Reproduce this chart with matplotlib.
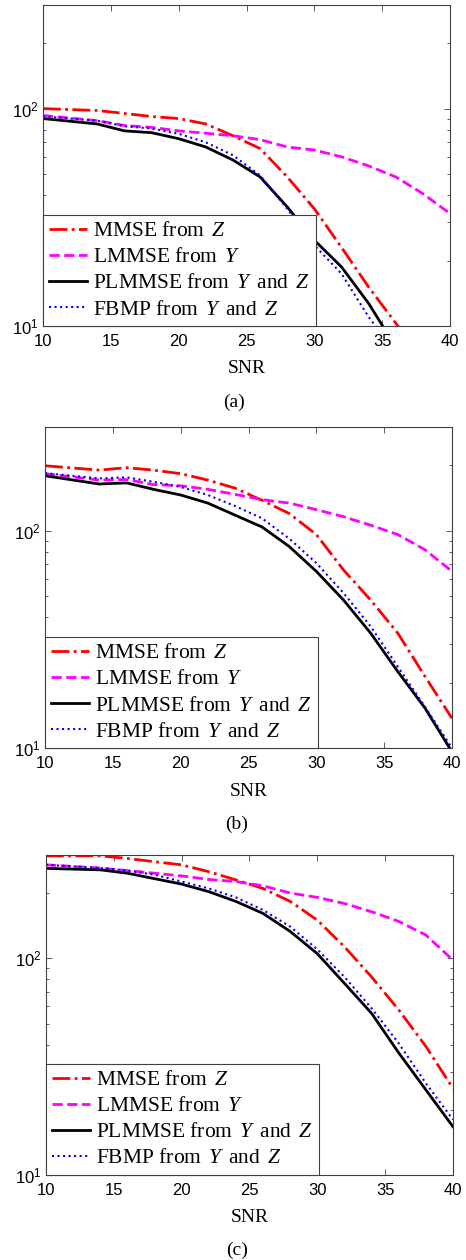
import numpy as np
import matplotlib
matplotlib.use("Agg")
import matplotlib.pyplot as plt
from matplotlib.ticker import LogLocator, NullFormatter, FuncFormatter

# sans for the tick labels (MATLAB style), serif for legend and labels
plt.rcParams['font.family'] = ['Liberation Sans', 'DejaVu Sans']
plt.rcParams['mathtext.fontset'] = 'custom'
plt.rcParams['mathtext.rm'] = 'Liberation Serif'
plt.rcParams['mathtext.it'] = 'Liberation Serif:italic'
plt.rcParams['mathtext.sf'] = 'Liberation Sans'
SERIF = ['Liberation Serif', 'DejaVu Serif']

# ---------------------------------------------------------------
# data (SNR in dB)
# ---------------------------------------------------------------
snr = [10, 14, 16, 18, 20, 22, 24, 26, 28, 30, 32, 34, 36, 38, 40]

# panel (a)
mmse_a   = [100, 98, 95, 92, 90, 85, 75, 65.5, 48.5, 34.6, 23, 15.1, 10.3, 7, 5]
lmmse_a  = [93, 88, 83.6, 82, 79, 77, 75, 72, 66.6, 64.5, 60, 54.5, 48.5, 40.6, 32.9]
plmmse_a = [90, 85, 79, 77.5, 72.7, 66.6, 58, 48.5, 35.3, 24.8, 18.7, 12.7, 8, 5, 3]
fbmp_a   = [92, 88, 83, 81, 76.6, 70, 61, 49.3, 34.6, 23.5, 17.4, 11, 7.5, 5, 3]

# panel (b)
mmse_b   = [199, 190, 195, 190, 183, 171, 157, 138, 120, 96, 66, 48, 33.8, 21.4, 13.7]
lmmse_b  = [183, 171, 172, 163, 161, 155, 147, 139, 134, 125, 116, 106, 96, 81.8, 65]
plmmse_b = [179, 164, 166, 155, 146, 134, 118, 104, 84.6, 65, 48, 33.8, 22.5, 15.3, 9.6]
fbmp_b   = [184, 174, 176, 168, 159, 146, 130, 114, 92, 71, 51.7, 36.3, 23.7, 15.5, 10]

# panel (c)
mmse_c   = [297, 297, 289, 279, 270, 251, 230, 210, 183, 150, 113, 82, 57.8, 39.2, 25.1]
lmmse_c  = [270, 261, 254, 247, 240, 231, 226, 216, 200, 191, 179, 164, 148, 128, 98]
plmmse_c = [260, 256, 247, 233, 220, 203, 183, 161, 133, 105, 76.6, 55.7, 36.6, 24.7, 16.7]
fbmp_c   = [270, 261, 254, 243, 226, 210, 191, 167, 140, 110, 82, 58.8, 40.5, 26.5, 18]

labels = [r'MMSE from $\,Z$', r'LMMSE from $\,Y$',
          r'PLMMSE from $\,Y\,$ and $\,Z$', r'FBMP from $\,Y\,$ and $\,Z$']
panel_names = ['(a)', '(b)', '(c)']
panels = [
    [mmse_a, lmmse_a, plmmse_a, fbmp_a],
    [mmse_b, lmmse_b, plmmse_b, fbmp_b],
    [mmse_c, lmmse_c, plmmse_c, fbmp_c],
]

styles = [
    dict(color='#ff0000', linestyle='-.', linewidth=2.0),
    dict(color='#ff00ff', linestyle='--', linewidth=2.0),
    dict(color='black', linestyle='-', linewidth=2.0),
    dict(color='#0000ff', linestyle=':', linewidth=1.5),
]

# axes boxes in figure fraction [left, bottom, width, height]
boxes = [
    [0.0923, 0.7413, 0.8734, 0.2548],
    [0.0966, 0.4063, 0.8734, 0.2548],
    [0.0987, 0.0675, 0.8734, 0.2540],
]


def log_label(v, pos):
    return r'$\mathsf{10^{%d}}$' % int(round(np.log10(v)))


fig = plt.figure(figsize=(4.66, 12.6), dpi=100)

for box, series, name in zip(boxes, panels, panel_names):
    ax = fig.add_axes(box)
    for vals, lab, st in zip(series, labels, styles):
        ax.plot(snr, vals, label=lab, **st)

    ax.set_yscale('log')
    ax.set_xlim(10, 40)
    ax.set_ylim(10, 300)
    ax.set_xticks([10, 15, 20, 25, 30, 35, 40])
    ax.yaxis.set_major_locator(LogLocator(base=10, numticks=10))
    ax.yaxis.set_major_formatter(FuncFormatter(log_label))
    ax.yaxis.set_minor_locator(LogLocator(base=10, subs=np.arange(2, 10), numticks=10))
    ax.yaxis.set_minor_formatter(NullFormatter())

    ax.tick_params(which='both', direction='in', top=True, right=True,
                   color='#404040', width=0.6)
    ax.tick_params(which='major', length=4, labelsize=12)
    ax.tick_params(axis='x', which='major', pad=6)
    ax.tick_params(axis='y', which='major', pad=3)
    ax.tick_params(which='minor', length=2.5)
    for sp in ax.spines.values():
        sp.set_color('#404040')
        sp.set_linewidth(0.8)

    ax.set_xlabel('SNR', fontsize=14, labelpad=8, family=SERIF)
    ax.text(0.47, -0.237, name, transform=ax.transAxes, fontsize=14,
            ha='center', va='center', family=SERIF)

    leg = ax.legend(loc='lower left', bbox_to_anchor=(0, 0), borderaxespad=0,
                    prop={'family': SERIF, 'size': 15.5},
                    handlelength=1.75, handletextpad=0.25,
                    labelspacing=0.28, borderpad=0.3, fancybox=False,
                    framealpha=1)
    leg.get_frame().set_edgecolor('#404040')
    leg.get_frame().set_linewidth(0.8)

fig.savefig('out.png', dpi=100)
